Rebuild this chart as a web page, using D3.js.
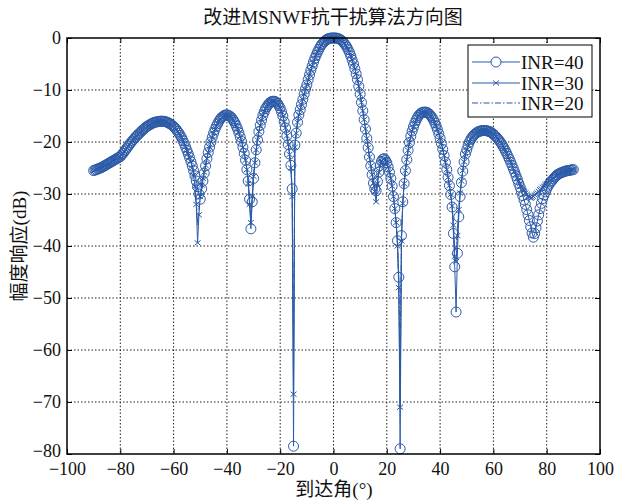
<!DOCTYPE html>
<html>
<head>
<meta charset="utf-8">
<script src="https://cdn.jsdelivr.net/npm/d3@7"></script>
<style>
  body { margin: 0; background: #fff; }
  svg text { font-family: "Liberation Serif", "Noto Sans CJK SC", serif; fill: #111; }
</style>
</head>
<body>
<div id="chart"></div>
<script>
// arrival angle, degrees (0.5 degree steps)
const angles = [
  -90,-89.5,-89,-88.5,-88,-87.5,-87,-86.5,-86,-85.5,-85,-84.5,-84,-83.5,-83,-82.5,-82,-81.5,-81,-80.5,
  -80,-79.5,-79,-78.5,-78,-77.5,-77,-76.5,-76,-75.5,-75,-74.5,-74,-73.5,-73,-72.5,-72,-71.5,-71,-70.5,
  -70,-69.5,-69,-68.5,-68,-67.5,-67,-66.5,-66,-65.5,-65,-64.5,-64,-63.5,-63,-62.5,-62,-61.5,-61,-60.5,
  -60,-59.5,-59,-58.5,-58,-57.5,-57,-56.5,-56,-55.5,-55,-54.5,-54,-53.5,-53,-52.5,-52,-51.5,-51,-50.5,
  -50,-49.5,-49,-48.5,-48,-47.5,-47,-46.5,-46,-45.5,-45,-44.5,-44,-43.5,-43,-42.5,-42,-41.5,-41,-40.5,
  -40,-39.5,-39,-38.5,-38,-37.5,-37,-36.5,-36,-35.5,-35,-34.5,-34,-33.5,-33,-32.5,-32,-31.5,-31,-30.5,
  -30,-29.5,-29,-28.5,-28,-27.5,-27,-26.5,-26,-25.5,-25,-24.5,-24,-23.5,-23,-22.5,-22,-21.5,-21,-20.5,
  -20,-19.5,-19,-18.5,-18,-17.5,-17,-16.5,-16,-15.5,-15,-14.5,-14,-13.5,-13,-12.5,-12,-11.5,-11,-10.5,
  -10,-9.5,-9,-8.5,-8,-7.5,-7,-6.5,-6,-5.5,-5,-4.5,-4,-3.5,-3,-2.5,-2,-1.5,-1,-0.5,
  0,0.5,1,1.5,2,2.5,3,3.5,4,4.5,5,5.5,6,6.5,7,7.5,8,8.5,9,9.5,
  10,10.5,11,11.5,12,12.5,13,13.5,14,14.5,15,15.5,16,16.5,17,17.5,18,18.5,19,19.5,
  20,20.5,21,21.5,22,22.5,23,23.5,24,24.5,25,25.5,26,26.5,27,27.5,28,28.5,29,29.5,
  30,30.5,31,31.5,32,32.5,33,33.5,34,34.5,35,35.5,36,36.5,37,37.5,38,38.5,39,39.5,
  40,40.5,41,41.5,42,42.5,43,43.5,44,44.5,45,45.5,46,46.5,47,47.5,48,48.5,49,49.5,
  50,50.5,51,51.5,52,52.5,53,53.5,54,54.5,55,55.5,56,56.5,57,57.5,58,58.5,59,59.5,
  60,60.5,61,61.5,62,62.5,63,63.5,64,64.5,65,65.5,66,66.5,67,67.5,68,68.5,69,69.5,
  70,70.5,71,71.5,72,72.5,73,73.5,74,74.5,75,75.5,76,76.5,77,77.5,78,78.5,79,79.5,
  80,80.5,81,81.5,82,82.5,83,83.5,84,84.5,85,85.5,86,86.5,87,87.5,88,88.5,89,89.5,
  90
];

// amplitude response, dB
const inr40 = [
  -25.5,-25.4,-25.3,-25.2,-25.1,-25.0,-24.9,-24.75,-24.6,-24.45,-24.3,-24.15,-24.0,-23.85,-23.7,-23.55,-23.4,-23.25,-23.1,-22.95,
  -22.8,-22.5,-22.2,-21.85,-21.5,-21.15,-20.8,-20.45,-20.1,-19.8,-19.5,-19.2,-18.9,-18.65,-18.4,-18.15,-17.9,-17.65,-17.4,-17.2,
  -17.0,-16.85,-16.7,-16.55,-16.4,-16.3,-16.2,-16.15,-16.1,-16.05,-16.0,-16.0,-16.0,-16.05,-16.1,-16.2,-16.3,-16.45,-16.6,-16.8,
  -17.0,-17.3,-17.6,-17.95,-18.3,-18.75,-19.2,-19.75,-20.3,-20.95,-21.6,-22.3,-23.0,-23.8,-24.6,-25.5,-26.5,-27.5,-28.6,-30.0,
  -31.0,-29.0,-27.5,-26.0,-24.6,-23.2,-22.0,-21.0,-20.0,-19.1,-18.3,-17.6,-17.0,-16.5,-16.0,-15.6,-15.3,-15.1,-14.9,-14.8,
  -14.8,-14.85,-15.0,-15.2,-15.5,-15.9,-16.3,-16.9,-17.5,-18.2,-19.0,-19.9,-21.0,-22.2,-23.5,-25.3,-27.5,-31.0,-36.7,-31.5,
  -27.0,-24.0,-21.5,-19.6,-18.0,-16.8,-15.8,-14.9,-14.2,-13.6,-13.2,-12.8,-12.5,-12.3,-12.2,-12.15,-12.2,-12.35,-12.6,-13.0,
  -13.5,-14.2,-15.0,-16.1,-17.3,-18.8,-20.5,-22.3,-24.5,-29.0,-78.5,-20.6,-18.3,-16.2,-14.8,-13.8,-12.8,-11.8,-10.8,-9.8,
  -9.0,-8.0,-7.1,-6.2,-5.4,-4.6,-3.9,-3.3,-2.7,-2.2,-1.7,-1.3,-1.0,-0.7,-0.45,-0.3,-0.15,-0.07,-0.02,0,
  0,0,-0.02,-0.07,-0.15,-0.3,-0.45,-0.7,-1.0,-1.35,-1.75,-2.25,-2.8,-3.45,-4.2,-5.0,-5.9,-6.9,-8.0,-9.3,
  -10.8,-12.4,-14.0,-15.7,-17.5,-19.3,-21.1,-22.9,-24.6,-26.3,-27.9,-29.0,-29.4,-27.6,-25.8,-24.5,-23.7,-23.3,-23.2,-23.5,
  -24.0,-24.8,-25.8,-27.0,-28.5,-30.5,-32.8,-35.5,-39.0,-46.0,-79.0,-38.0,-31.5,-28.0,-25.5,-23.4,-21.6,-20.1,-18.9,-17.9,
  -17.1,-16.4,-15.8,-15.3,-14.9,-14.6,-14.4,-14.3,-14.25,-14.25,-14.3,-14.45,-14.65,-14.95,-15.3,-15.75,-16.3,-16.9,-17.6,-18.4,
  -19.3,-20.3,-21.4,-22.6,-23.9,-25.3,-26.8,-28.4,-30.1,-32.5,-37.6,-44.0,-52.7,-41.4,-34.4,-30.5,-27.8,-25.6,-23.8,-22.3,
  -21.5,-20.7,-20.0,-19.5,-19.1,-18.8,-18.5,-18.3,-18.1,-18.0,-17.9,-17.85,-17.8,-17.8,-17.8,-17.85,-17.9,-18.0,-18.1,-18.3,
  -18.5,-18.75,-19.0,-19.3,-19.6,-19.95,-20.3,-20.75,-21.2,-21.7,-22.2,-22.75,-23.3,-23.9,-24.5,-25.15,-25.8,-26.5,-27.2,-27.95,
  -28.7,-29.5,-30.3,-31.15,-32.0,-33.0,-34.0,-35.1,-36.3,-37.5,-38.3,-37.6,-36.5,-35.2,-34.0,-32.8,-31.8,-30.9,-30.2,-29.6,
  -29.0,-28.5,-28.1,-27.7,-27.4,-27.1,-26.8,-26.55,-26.3,-26.15,-26.0,-25.9,-25.8,-25.7,-25.6,-25.55,-25.5,-25.45,-25.4,-25.35,
  -25.3
];

const inr30 = [
  -25.5,-25.4,-25.3,-25.2,-25.1,-25.0,-24.9,-24.75,-24.6,-24.45,-24.3,-24.15,-24.0,-23.85,-23.7,-23.55,-23.4,-23.25,-23.1,-22.95,
  -22.8,-22.5,-22.2,-21.85,-21.5,-21.15,-20.8,-20.45,-20.1,-19.8,-19.5,-19.2,-18.9,-18.65,-18.4,-18.15,-17.9,-17.65,-17.4,-17.2,
  -17.0,-16.85,-16.7,-16.55,-16.4,-16.3,-16.2,-16.15,-16.1,-16.05,-16.0,-16.0,-16.0,-16.05,-16.1,-16.2,-16.3,-16.45,-16.6,-16.8,
  -17.0,-17.3,-17.6,-17.95,-18.3,-18.75,-19.2,-19.75,-20.3,-20.95,-21.6,-22.3,-23.0,-23.8,-25.0,-26.4,-28.5,-32.0,-39.4,-34.0,
  -30.5,-28.3,-27.0,-25.8,-24.5,-23.2,-22.0,-21.0,-20.0,-19.1,-18.3,-17.6,-17.0,-16.5,-16.0,-15.6,-15.3,-15.1,-14.9,-14.8,
  -14.8,-14.85,-15.0,-15.2,-15.5,-15.9,-16.3,-16.9,-17.5,-18.2,-19.0,-19.9,-21.0,-22.2,-23.5,-25.3,-28.0,-32.0,-35.5,-30.5,
  -26.6,-24.0,-21.5,-19.6,-18.0,-16.8,-15.8,-14.9,-14.2,-13.6,-13.2,-12.8,-12.5,-12.3,-12.2,-12.15,-12.2,-12.35,-12.6,-13.0,
  -13.5,-14.2,-15.0,-16.1,-17.3,-18.8,-20.5,-22.4,-25.0,-30.5,-68.5,-21.0,-18.3,-16.2,-14.8,-13.8,-12.8,-11.8,-10.8,-9.8,
  -9.0,-8.0,-7.1,-6.2,-5.4,-4.6,-3.9,-3.3,-2.7,-2.2,-1.7,-1.3,-1.0,-0.7,-0.45,-0.3,-0.15,-0.07,-0.02,0,
  0,0,-0.02,-0.07,-0.15,-0.3,-0.45,-0.7,-1.0,-1.35,-1.75,-2.25,-2.8,-3.45,-4.2,-5.0,-5.9,-6.9,-8.0,-9.3,
  -10.8,-12.4,-14.0,-15.7,-17.5,-19.3,-21.1,-22.9,-24.6,-26.3,-27.9,-29.5,-31.5,-28.0,-25.9,-24.5,-23.7,-23.3,-23.2,-23.5,
  -24.0,-24.8,-25.8,-27.0,-28.5,-30.5,-32.8,-35.5,-40.0,-48.0,-71.0,-39.0,-31.8,-28.0,-25.5,-23.4,-21.6,-20.1,-18.9,-17.9,
  -17.1,-16.4,-15.8,-15.3,-14.9,-14.6,-14.4,-14.3,-14.25,-14.25,-14.3,-14.45,-14.65,-14.95,-15.3,-15.75,-16.3,-16.9,-17.6,-18.4,
  -19.3,-20.3,-21.4,-22.6,-23.9,-25.3,-26.8,-28.4,-30.1,-32.3,-36.0,-42.0,-43.0,-38.0,-33.0,-29.8,-27.5,-25.5,-23.8,-22.3,
  -21.5,-20.7,-20.0,-19.5,-19.1,-18.8,-18.5,-18.3,-18.1,-18.0,-17.9,-17.85,-17.8,-17.8,-17.8,-17.85,-17.9,-18.0,-18.1,-18.3,
  -18.5,-18.75,-19.0,-19.3,-19.6,-19.95,-20.3,-20.75,-21.2,-21.7,-22.2,-22.75,-23.3,-23.9,-24.5,-25.1,-25.7,-26.3,-26.9,-27.5,
  -28.0,-28.5,-29.0,-29.4,-29.8,-30.1,-30.4,-30.6,-30.8,-30.7,-30.5,-30.2,-30.0,-29.8,-29.5,-29.2,-29.0,-28.7,-28.5,-28.2,
  -28.0,-27.7,-27.5,-27.3,-27.1,-26.9,-26.7,-26.5,-26.3,-26.15,-26.0,-25.9,-25.8,-25.7,-25.6,-25.55,-25.5,-25.45,-25.4,-25.35,
  -25.3
];

const inr20 = [
  -25.5,-25.4,-25.3,-25.2,-25.1,-25.0,-24.9,-24.75,-24.6,-24.45,-24.3,-24.15,-24.0,-23.85,-23.7,-23.55,-23.4,-23.25,-23.1,-22.95,
  -22.8,-22.5,-22.2,-21.85,-21.5,-21.15,-20.8,-20.45,-20.1,-19.8,-19.5,-19.2,-18.9,-18.65,-18.4,-18.15,-17.9,-17.65,-17.4,-17.2,
  -17.0,-16.85,-16.7,-16.55,-16.4,-16.3,-16.2,-16.15,-16.1,-16.05,-16.0,-16.0,-16.0,-16.05,-16.1,-16.2,-16.3,-16.45,-16.6,-16.8,
  -17.0,-17.3,-17.6,-17.95,-18.3,-18.75,-19.2,-19.75,-20.3,-20.95,-21.6,-22.3,-23.0,-23.8,-25.0,-26.2,-28.0,-31.0,-36.0,-33.0,
  -30.2,-28.2,-27.0,-25.8,-24.5,-23.2,-22.0,-21.0,-20.0,-19.1,-18.3,-17.6,-17.0,-16.5,-16.0,-15.6,-15.3,-15.1,-14.9,-14.8,
  -14.8,-14.85,-15.0,-15.2,-15.5,-15.9,-16.3,-16.9,-17.5,-18.2,-19.0,-19.9,-21.0,-22.2,-23.5,-25.3,-27.8,-31.5,-34.5,-30.2,
  -26.5,-24.0,-21.5,-19.6,-18.0,-16.8,-15.8,-14.9,-14.2,-13.6,-13.2,-12.8,-12.5,-12.3,-12.2,-12.15,-12.2,-12.35,-12.6,-13.0,
  -13.5,-14.2,-15.0,-16.1,-17.3,-18.8,-20.5,-22.4,-25.0,-30.2,-60.0,-21.0,-18.3,-16.2,-14.8,-13.8,-12.8,-11.8,-10.8,-9.8,
  -9.0,-8.0,-7.1,-6.2,-5.4,-4.6,-3.9,-3.3,-2.7,-2.2,-1.7,-1.3,-1.0,-0.7,-0.45,-0.3,-0.15,-0.07,-0.02,0,
  0,0,-0.02,-0.07,-0.15,-0.3,-0.45,-0.7,-1.0,-1.35,-1.75,-2.25,-2.8,-3.45,-4.2,-5.0,-5.9,-6.9,-8.0,-9.3,
  -10.8,-12.4,-14.0,-15.7,-17.5,-19.3,-21.1,-22.9,-24.6,-26.3,-27.9,-29.4,-31.0,-27.9,-25.9,-24.5,-23.7,-23.3,-23.2,-23.5,
  -24.0,-24.8,-25.8,-27.0,-28.5,-30.5,-32.8,-35.5,-39.5,-47.0,-64.0,-38.8,-31.8,-28.0,-25.5,-23.4,-21.6,-20.1,-18.9,-17.9,
  -17.1,-16.4,-15.8,-15.3,-14.9,-14.6,-14.4,-14.3,-14.25,-14.25,-14.3,-14.45,-14.65,-14.95,-15.3,-15.75,-16.3,-16.9,-17.6,-18.4,
  -19.3,-20.3,-21.4,-22.6,-23.9,-25.3,-26.8,-28.4,-30.1,-32.2,-35.6,-41.0,-40.0,-37.0,-32.8,-29.7,-27.4,-25.5,-23.8,-22.3,
  -21.5,-20.7,-20.0,-19.5,-19.1,-18.8,-18.5,-18.3,-18.1,-18.0,-17.9,-17.85,-17.8,-17.8,-17.8,-17.85,-17.9,-18.0,-18.1,-18.3,
  -18.5,-18.75,-19.0,-19.3,-19.6,-19.95,-20.3,-20.75,-21.2,-21.7,-22.2,-22.75,-23.3,-23.9,-24.5,-25.1,-25.7,-26.3,-26.9,-27.5,
  -28.0,-28.5,-29.0,-29.4,-29.7,-30.0,-30.2,-30.3,-30.3,-30.3,-30.2,-30.1,-29.9,-29.7,-29.5,-29.2,-29.0,-28.7,-28.5,-28.2,
  -28.0,-27.7,-27.5,-27.3,-27.1,-26.9,-26.7,-26.5,-26.3,-26.15,-26.0,-25.9,-25.8,-25.7,-25.6,-25.55,-25.5,-25.45,-25.4,-25.35,
  -25.3
];

const xTicks = [-100, -80, -60, -40, -20, 0, 20, 40, 60, 80, 100];
const yTicks = [-80, -70, -60, -50, -40, -30, -20, -10, 0];
const seriesNames = ['INR=40', 'INR=30', 'INR=20'];

const chartWidth = 627;
const chartHeight = 501;
const blue = '#2b5aa8';

const plotLeft = 67, plotRight = 600, plotTop = 38, plotBottom = 454;

let svg = d3.select('#chart').append('svg')
  .attr('width', chartWidth)
  .attr('height', chartHeight)

let x = d3.scaleLinear().domain([-100, 100]).range([plotLeft, plotRight])
let y = d3.scaleLinear().domain([-80, 0]).range([plotBottom, plotTop])

// dotted grid
let grid = svg.append('g')
grid.selectAll('line.gx').data(xTicks.slice(1, -1))
  .enter().append('line')
    .attr('x1', d => x(d)).attr('x2', d => x(d))
    .attr('y1', plotTop).attr('y2', plotBottom)
grid.selectAll('line.gy').data(yTicks.slice(1, -1))
  .enter().append('line')
    .attr('y1', d => y(d)).attr('y2', d => y(d))
    .attr('x1', plotLeft).attr('x2', plotRight)
grid.selectAll('line')
  .attr('stroke', '#222')
  .attr('stroke-width', 1)
  .attr('stroke-dasharray', '1.5,2')

let pts = s => angles.map((a, i) => [a, s[i]])
let line = d3.line().x(d => x(d[0])).y(d => y(d[1]))

let plot = svg.append('g')

// INR=20 dash-dot
plot.append('path')
  .attr('d', line(pts(inr20)))
  .attr('fill', 'none').attr('stroke', blue).attr('stroke-width', 1)
  .attr('stroke-dasharray', '6,2,1.5,2')

// INR=30 with x markers
plot.append('path')
  .attr('d', line(pts(inr30)))
  .attr('fill', 'none').attr('stroke', blue).attr('stroke-width', 1)
const xMark = 'M-3,-2.5L3,2.5M-3,2.5L3,-2.5'
plot.selectAll('path.xm').data(pts(inr30))
  .enter().append('path')
    .attr('transform', d => `translate(${x(d[0])},${y(d[1])})`)
    .attr('d', xMark)
    .attr('stroke', blue).attr('stroke-width', 1).attr('fill', 'none')

// INR=40 with circles
plot.append('path')
  .attr('d', line(pts(inr40)))
  .attr('fill', 'none').attr('stroke', blue).attr('stroke-width', 1)
plot.selectAll('circle').data(pts(inr40))
  .enter().append('circle')
    .attr('cx', d => x(d[0]))
    .attr('cy', d => y(d[1]))
    .attr('r', 5)
    .attr('fill', 'none').attr('stroke', blue).attr('stroke-width', 1)

// frame
svg.append('rect')
  .attr('x', plotLeft).attr('y', plotTop)
  .attr('width', plotRight - plotLeft).attr('height', plotBottom - plotTop)
  .attr('fill', 'none').attr('stroke', '#000').attr('stroke-width', 1.5)

// axes with inward ticks
let axisB = svg.append('g').attr('transform', `translate(0,${plotBottom})`)
  .call(d3.axisBottom(x).tickValues(xTicks).tickSize(-5).tickPadding(10).tickFormat(d3.format('d')))
let axisT = svg.append('g').attr('transform', `translate(0,${plotTop})`)
  .call(d3.axisTop(x).tickValues(xTicks).tickSize(-5).tickFormat(''))
let axisL = svg.append('g').attr('transform', `translate(${plotLeft},0)`)
  .call(d3.axisLeft(y).tickValues(yTicks).tickSize(-5).tickPadding(6).tickFormat(d3.format('d')))
let axisR = svg.append('g').attr('transform', `translate(${plotRight},0)`)
  .call(d3.axisRight(y).tickValues(yTicks).tickSize(-5).tickFormat(''))

;[axisB, axisT, axisL, axisR].forEach(a => {
  a.select('.domain').remove()
  a.selectAll('line').attr('stroke', '#000')
  a.selectAll('text').attr('font-size', 18).attr('fill', '#111')
    .style('font-family', '"Liberation Serif", serif')
})
axisB.selectAll('text').attr('dy', '0.62em')
axisL.selectAll('text').attr('dy', (d, i) => d === -80 ? '0.15em' : '0.3em')

// title and axis labels
svg.append('text')
  .attr('x', 333).attr('y', 24)
  .attr('text-anchor', 'middle')
  .attr('font-size', 19)
  .text('改进MSNWF抗干扰算法方向图')

svg.append('text')
  .attr('x', 334).attr('y', 496)
  .attr('text-anchor', 'middle')
  .attr('font-size', 19)
  .text('到达角(°)')

svg.append('text')
  .attr('transform', 'translate(26,246) rotate(-90)')
  .attr('text-anchor', 'middle')
  .attr('font-size', 19)
  .text('幅度响应(dB)')

// legend
let legend = svg.append('g')
legend.append('rect')
  .attr('x', 468).attr('y', 45)
  .attr('width', 124).attr('height', 72)
  .attr('fill', '#fff').attr('stroke', '#000').attr('stroke-width', 1)

let rowY = [62, 83, 103]
let rows = legend.selectAll('g.row').data(seriesNames)
  .enter().append('g')
    .attr('transform', (d, i) => `translate(0,${rowY[i]})`)
rows.append('line')
  .attr('x1', 472).attr('x2', 520)
  .attr('stroke', blue).attr('stroke-width', 1)
  .attr('stroke-dasharray', (d, i) => i === 2 ? '6,2,1.5,2' : null)
rows.filter((d, i) => i === 0).append('circle')
  .attr('cx', 496).attr('r', 5)
  .attr('fill', '#fff').attr('stroke', blue)
rows.filter((d, i) => i === 1).append('path')
  .attr('transform', 'translate(496,0)')
  .attr('d', xMark).attr('stroke', blue).attr('fill', 'none')
rows.append('text')
  .attr('x', 521).attr('y', 0).attr('dy', '0.35em')
  .attr('font-size', 19)
  .text(d => d)
</script>
</body>
</html>
